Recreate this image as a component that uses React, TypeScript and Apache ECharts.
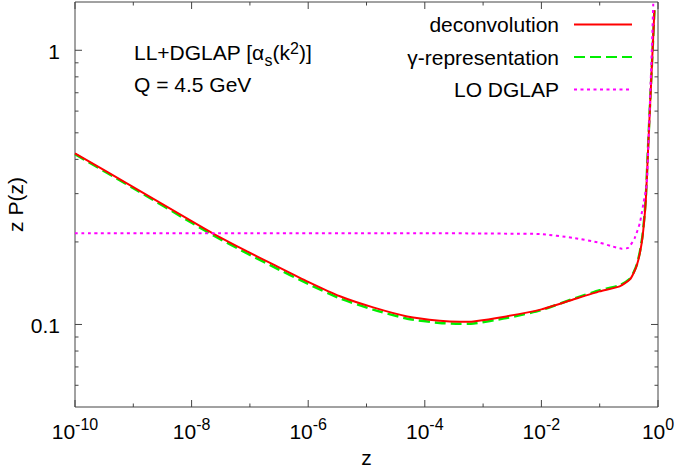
import React, { useEffect, useRef } from 'react';
import * as echarts from 'echarts';

// z grid shared by the two LL+DGLAP curves
const zGrid = [1e-10, 1e-9, 1e-8, 2.3e-8, 8.8e-8, 2.5e-7, 1e-6, 3.5e-6, 1.3e-5, 5e-5, 1.8e-4, 4e-4, 6.8e-4, 2.5e-3, 1e-2, 3.5e-2, 0.1, 0.22, 0.331, 0.388, 0.436, 0.491, 0.542, 0.587, 0.617, 0.674, 0.738, 0.808, 0.868];
const deconvolution = [0.421, 0.317, 0.238, 0.215, 0.185, 0.1655, 0.143, 0.1267, 0.1154, 0.107, 0.1032, 0.1023, 0.1026, 0.107, 0.1135, 0.1233, 0.132, 0.1377, 0.146, 0.155, 0.165, 0.183, 0.208, 0.246, 0.282, 0.43, 0.656, 1.0, 1.4];
const gammaRepresentation = [0.418, 0.314, 0.235, 0.212, 0.182, 0.1625, 0.1405, 0.1245, 0.1133, 0.105, 0.1013, 0.1005, 0.1008, 0.1055, 0.1128, 0.124, 0.1333, 0.139, 0.147, 0.156, 0.166, 0.185, 0.211, 0.25, 0.288, 0.44, 0.67, 1.0, 1.4];
// LO DGLAP curve
const zLO = [1e-10, 1e-7, 1e-4, 1e-3, 3e-3, 9.5e-3, 3.5e-2, 0.1, 0.16, 0.24, 0.31, 0.4, 0.49, 0.56, 0.64, 0.679, 0.729, 0.783, 0.831];
const loDglap = [0.215, 0.215, 0.215, 0.2148, 0.2143, 0.2136, 0.207, 0.1986, 0.193, 0.189, 0.1905, 0.207, 0.2355, 0.275, 0.325, 0.43, 0.656, 1.0, 1.5];

// axes
const xMajorTicks = [1e-10, 1e-8, 1e-6, 1e-4, 1e-2, 1];
const xTickExponents = ['-10', '-8', '-6', '-4', '-2', '0'];
const xMinorTicks = [1e-9, 1e-7, 1e-5, 1e-3, 1e-1];
const yMajorTicks = [0.1, 1];
const yTickLabels = ['0.1', '1'];
const yMinorTicks = [0.06, 0.07, 0.08, 0.09, 0.2, 0.3, 0.4, 0.5, 0.6, 0.7, 0.8, 0.9];

const FONT = '"Liberation Sans", Arial, Helvetica, sans-serif';
const AX = '#444';

export default function App() {
  const ref = useRef<HTMLDivElement>(null);
  useEffect(() => {
    document.body.style.margin = '0';
    const chart = echarts.init(ref.current!, null, { renderer: 'svg', width: 676, height: 469 });
    const pair = (xs: number[], ys: number[]) => xs.map((x, i) => [x, ys[i]]);
    const common = { type: 'line', symbol: 'none', showSymbol: false, smooth: 0.2, clip: true };
    const hiddenAxis = {
      axisLine: { show: false }, axisTick: { show: false }, axisLabel: { show: false },
      splitLine: { show: false }, minorTick: { show: false }, minorSplitLine: { show: false },
    };
    chart.setOption({
      animation: false,
      textStyle: { fontFamily: FONT },
      grid: {
        left: 75, right: 18, top: 2, bottom: 62, show: true, borderColor: AX, borderWidth: 1,
        containLabel: false, outerBoundsMode: 'none',
      },
      xAxis: {
        type: 'log', logBase: 10, min: 1e-10, max: 1, ...hiddenAxis,
        name: 'z', nameLocation: 'middle', nameGap: 40,
        nameTextStyle: { fontSize: 21, color: '#000', fontFamily: FONT },
      },
      yAxis: {
        type: 'log', logBase: 10, min: 0.05, max: 1.5, ...hiddenAxis,
        name: 'z P(z)', nameLocation: 'middle', nameGap: 49,
        nameTextStyle: { fontSize: 21, color: '#000', fontFamily: FONT },
      },
      legend: {
        orient: 'vertical', right: 43, top: 14, padding: 0, align: 'right',
        itemWidth: 58, itemHeight: 14, itemGap: 11.5,
        data: ['deconvolution', 'γ-representation', 'LO DGLAP'],
        itemStyle: { color: 'rgba(0,0,0,0)', borderColor: 'rgba(0,0,0,0)', borderWidth: 0, opacity: 0 },
        textStyle: { fontSize: 21, color: '#000', fontFamily: FONT, padding: [0, 10, 0, 0] },
      },
      series: [
        { ...common, name: 'γ-representation', data: pair(zGrid, gammaRepresentation),
          lineStyle: { color: '#00ee00', width: 2.5, type: [11, 5] }, itemStyle: { color: '#00ee00' } },
        { ...common, name: 'deconvolution', data: pair(zGrid, deconvolution),
          lineStyle: { color: '#ff0000', width: 2 }, itemStyle: { color: '#ff0000' } },
        { ...common, name: 'LO DGLAP', data: pair(zLO, loDglap),
          lineStyle: { color: '#ff00ff', width: 2, type: [3, 3.5] }, itemStyle: { color: '#ff00ff' } },
      ],
    });

    const X = (v: number) => chart.convertToPixel({ xAxisIndex: 0 }, v) as number;
    const Y = (v: number) => chart.convertToPixel({ yAxisIndex: 0 }, v) as number;
    const left = X(1e-10), right = X(1), top = Y(1.5), bottom = Y(0.05);
    const g: any[] = [];
    const tick = (x1: number, y1: number, x2: number, y2: number) =>
      g.push({ type: 'line', silent: true, shape: { x1, y1, x2, y2 }, style: { stroke: AX, lineWidth: 1 } });
    xMajorTicks.forEach((v) => { const x = X(v); tick(x, bottom, x, bottom - 7); tick(x, top, x, top + 7); });
    xMinorTicks.forEach((v) => { const x = X(v); tick(x, bottom, x, bottom - 3.5); tick(x, top, x, top + 3.5); });
    yMajorTicks.forEach((v) => { const y = Y(v); tick(left, y, left + 7, y); tick(right, y, right - 7, y); });
    yMinorTicks.forEach((v) => { const y = Y(v); tick(left, y, left + 3.5, y); tick(right, y, right - 3.5, y); });

    xMajorTicks.forEach((v, i) => g.push({
      type: 'text', silent: true, x: X(v), y: bottom + 24,
      style: {
        text: `{b|10}{s|${xTickExponents[i]}}`, align: 'center', verticalAlign: 'middle',
        rich: {
          b: { fontSize: 21, fontFamily: FONT, fill: '#000' },
          s: { fontSize: 16, fontFamily: FONT, fill: '#000', padding: [0, 0, 14, 0] },
        },
      },
    }));
    yMajorTicks.forEach((v, i) => g.push({
      type: 'text', silent: true, x: left - 15, y: Y(v) + 1,
      style: { text: yTickLabels[i], align: 'right', verticalAlign: 'middle', fontSize: 21, fontFamily: FONT, fill: '#000' },
    }));
    g.push({
      type: 'text', silent: true, x: 134, y: 52,
      style: {
        text: '{n|LL+DGLAP [α}{sub|s}{n|(k}{sup|2}{n|)]}', align: 'left', verticalAlign: 'middle',
        rich: {
          n: { fontSize: 21, fontFamily: FONT, fill: '#000' },
          sub: { fontSize: 16, fontFamily: FONT, fill: '#000', padding: [16, 0, 0, 0] },
          sup: { fontSize: 16, fontFamily: FONT, fill: '#000', padding: [0, 0, 8, 0] },
        },
      },
    });
    g.push({
      type: 'text', silent: true, x: 134, y: 84,
      style: { text: 'Q = 4.5 GeV', align: 'left', verticalAlign: 'middle', fontSize: 21, fontFamily: FONT, fill: '#000' },
    });
    chart.setOption({ graphic: g });
    return () => chart.dispose();
  }, []);
  return <div ref={ref} style={{ width: 676, height: 469 }} />;
}
